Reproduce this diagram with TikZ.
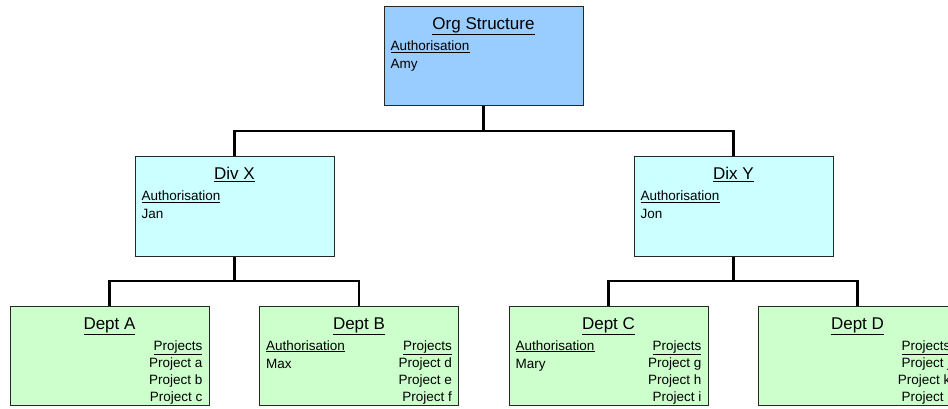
\documentclass[tikz,border=0pt]{standalone}
\usepackage{fontspec}
\setmainfont{Liberation Sans}
\usepackage{tikz}

\definecolor{orgblue}{RGB}{153,204,255}
\definecolor{divcyan}{RGB}{204,255,255}
\definecolor{deptgreen}{RGB}{204,255,204}

\tikzset{
	box/.style={draw=black!85,line width=1pt,minimum width=199,minimum height=99,inner sep=0pt},
	orgbox/.style={box,fill=orgblue},
	divbox/.style={box,fill=divcyan},
	deptbox/.style={box,fill=deptgreen},
	title/.style={inner sep=0pt,font=\fontsize{17}{20}\selectfont,anchor=base},
	txt/.style={inner sep=0pt,font=\fontsize{13.5}{17}\selectfont},
	link/.style={line width=2.4pt,black}
}

\begin{document}
\begin{tikzpicture}[x=1pt,y=-1pt]
	\useasboundingbox (0,0) rectangle (948,409);
	\clip (0,0) rectangle (948,409);
	% boxes
	\node[orgbox] (org) at (483.5,56.5) {};
	\node[divbox] (divx) at (234.5,206.5) {};
	\node[divbox] (divy) at (733.5,206.5) {};
	\node[deptbox] (depta) at (109.5,356) {};
	\node[deptbox] (deptb) at (359,356) {};
	\node[deptbox] (deptc) at (608.5,356) {};
	\node[deptbox] (deptd) at (857.5,356) {};
	% connectors
	\coordinate (orgbar) at (483.5,131);
	\coordinate (divxbar) at (234.5,281);
	\coordinate (divybar) at (733.5,281);
	\draw[link] (org.south) -- (orgbar) -| (divx.north);
	\draw[link] (orgbar) -| (divy.north);
	\draw[link] (divx.south) -- (divxbar) -| (depta.north);
	\draw[link] (divxbar) -| (deptb.north);
	\draw[link] (divy.south) -- (divybar) -| (deptc.north);
	\draw[link] (divybar) -| (deptd.north);
	% titles
	\node[title] (orgtitle) at ([shift={(0,23)}]org.north) {\underline{Org Structure}};
	\node[title] (divxtitle) at ([shift={(0,23)}]divx.north) {\underline{Div X}};
	\node[title] (divytitle) at ([shift={(0,23)}]divy.north) {\underline{Dix Y}};
	\node[title] (deptatitle) at ([shift={(0,23)}]depta.north) {\underline{Dept A}};
	\node[title] (deptbtitle) at ([shift={(0,23)}]deptb.north) {\underline{Dept B}};
	\node[title] (deptctitle) at ([shift={(0,23)}]deptc.north) {\underline{Dept C}};
	\node[title] (deptdtitle) at ([shift={(0,23)}]deptd.north) {\underline{Dept D}};
	% authorisation
	\foreach \b/\who in {org/Amy,divx/Jan,divy/Jon,deptb/Max,deptc/Mary}
	{
		\node[txt,anchor=base west] (\b auth) at ([shift={(7,44)}]\b.north west) {\underline{Authorisation}};
		\node[txt,anchor=base west] (\b who) at ([shift={(7,62)}]\b.north west) {\who};
	}
	% projects
	\foreach \b/\list in {depta/{a,b,c},deptb/{d,e,f},deptc/{g,h,i},deptd/{j,k,l}}
	{
		\node[txt,anchor=base east] (\b proj) at ([shift={(-7,44)}]\b.north east) {\underline{Projects}};
		\foreach \p [count=\i] in \list
			\node[txt,anchor=base east] (\b\p) at ([shift={(-7,44+17*\i)}]\b.north east) {Project \p};
	}
\end{tikzpicture}
\end{document}
